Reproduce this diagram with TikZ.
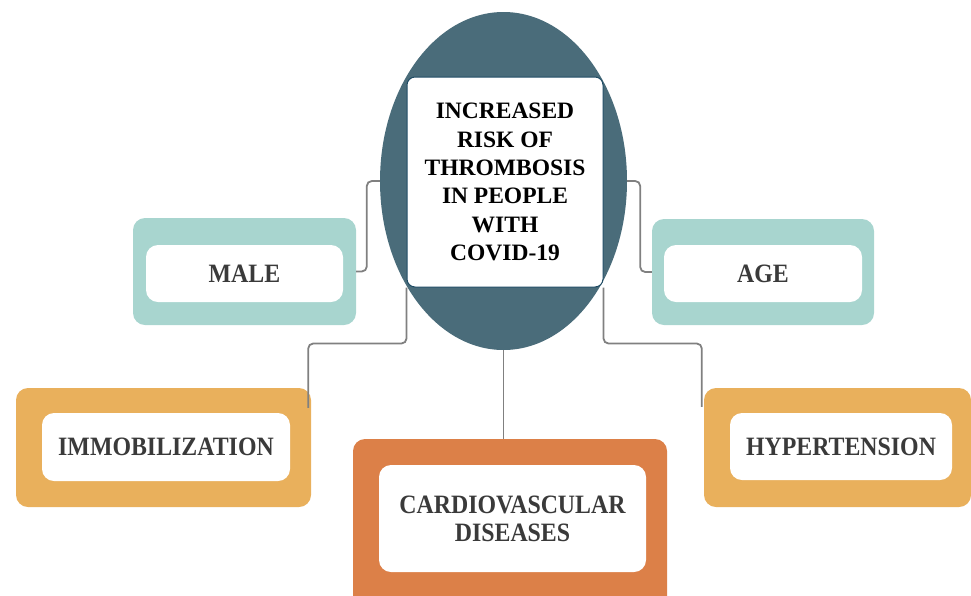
\documentclass[tikz,border=0pt]{standalone}
\usepackage{fontspec}
\setmainfont{Liberation Serif}
\newfontfamily\labelfont[FakeStretch=0.9]{Liberation Serif}
\usetikzlibrary{shapes.geometric,calc}
\definecolor{riskteal}{RGB}{74,108,122}
\definecolor{riskedge}{RGB}{30,75,100}
\definecolor{paleteal}{RGB}{168,213,207}
\definecolor{amber}{RGB}{233,176,92}
\definecolor{burnt}{RGB}{220,128,72}
\definecolor{linkgray}{RGB}{128,128,128}
\definecolor{labelgray}{RGB}{58,58,58}
\tikzset{
  riskellipse/.style={ellipse, fill=riskteal, inner sep=0pt,
                      minimum width=247pt, minimum height=338pt},
  riskbox/.style={rectangle, rounded corners=8pt, draw=riskedge, line width=1pt,
                  fill=white, minimum width=196pt, minimum height=210pt,
                  inner sep=0pt, align=center,
                  font=\fontsize{23.5}{28.4}\selectfont\bfseries},
  % factor boxes
  tealbox/.style={rectangle, rounded corners=12pt, fill=paleteal, inner sep=0pt},
  amberbox/.style={rectangle, rounded corners=12pt, fill=amber, inner sep=0pt},
  burntbox/.style={rectangle, rounded corners=12pt, fill=burnt, inner sep=0pt},
  labelbox/.style={rectangle, rounded corners=12pt, fill=white, inner sep=0pt,
                   align=center, text=labelgray,
                   font=\labelfont\fontsize{26.5}{28}\selectfont\bfseries},
  link/.style={draw=linkgray, line width=1.8pt, rounded corners=5pt},
}

\begin{document}
\begin{tikzpicture}[x=1pt,y=-1pt]
  \useasboundingbox (0,0) rectangle (971,595);
  \node[riskellipse] (risk) at (503.5,181) {};
  \node[riskbox] (riskbox) at (505,182) {INCREASED\\RISK OF\\THROMBOSIS\\IN PEOPLE\\WITH\\COVID-19};
  \node[tealbox, minimum width=223pt, minimum height=107pt] (male) at (244.5,271.5) {};
  \node[labelbox, minimum width=197pt, minimum height=57pt] (maletext) at (244.5,273.5) {MALE};
  \node[tealbox, minimum width=222pt, minimum height=106pt] (age) at (763,272) {};
  \node[labelbox, minimum width=198pt, minimum height=57pt] (agetext) at (763,273.5) {AGE};
  \node[amberbox, minimum width=295pt, minimum height=119pt] (immob) at (163.5,447.5) {};
  \node[labelbox, minimum width=248pt, minimum height=68pt] (immobtext) at (166,447) {IMMOBILIZATION};
  \node[amberbox, minimum width=267pt, minimum height=119pt] (hyper) at (837.5,447.5) {};
  \node[labelbox, minimum width=222pt, minimum height=67pt] (hypertext) at (841,446.5) {HYPERTENSION};
  \node[burntbox, minimum width=314pt, minimum height=170pt] (cardio) at (510,524) {};
  \node[labelbox, minimum width=267pt, minimum height=107pt] (cardiotext) at (512.5,518.5) {CARDIOVASCULAR\\DISEASES};
  \coordinate (immobend) at ($(immob.north east)+(-3,20)$);
  \coordinate (hyperend) at ($(hyper.north west)+(-2,19)$);
  \draw[link] (risk.west) -- ++(-13,0) |- (male.east);
  \draw[link] (risk.east) -- ++(13,0) |- (age.west);
  \draw[link] (riskbox.south west) -- ++(0,56) -| (immobend);
  \draw[link] (riskbox.south east) -- ++(0,56) -| (hyperend);
  \draw[link] (risk.south) -- (risk.south |- cardio.north);
\end{tikzpicture}
\end{document}
